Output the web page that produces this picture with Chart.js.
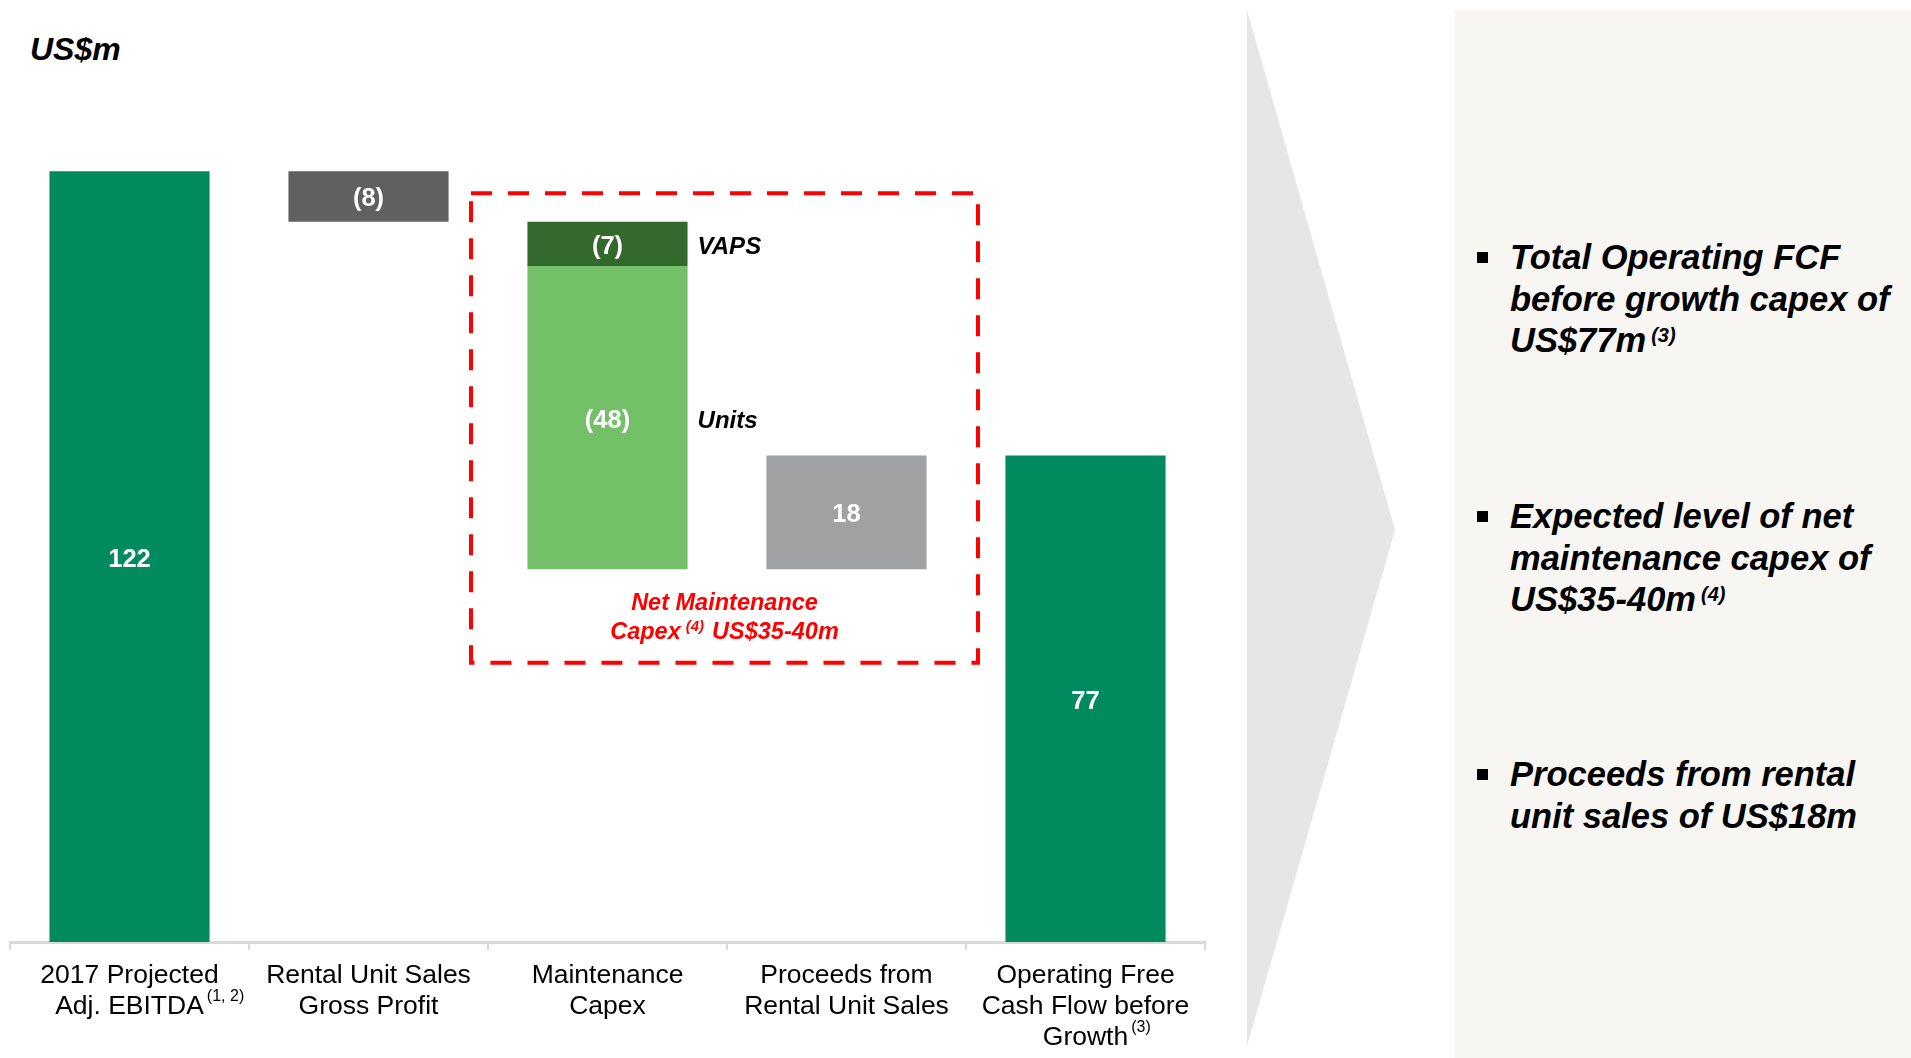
<!DOCTYPE html>
<html>
<head>
<meta charset="utf-8">
<script src="https://cdn.jsdelivr.net/npm/chart.js@4.4.1/dist/chart.umd.min.js"></script>
<style>
  html, body { margin: 0; padding: 0; background: #fff; width: 1911px; height: 1058px; overflow: hidden; }
  #unit { position: absolute; left: 30px; top: 28px; font: italic bold 32px "Liberation Sans", Arial, sans-serif; line-height: 42px; color: #000; }
  #chartBox { position: absolute; left: 0; top: 0; width: 1240px; height: 1058px; }
  #wedge { position: absolute; left: 0; top: 0; }
  #panel { position: absolute; left: 1455px; top: 10px; width: 456px; height: 1048px; background: #f7f6f2; }
  .pt { position: absolute; left: 1510px; font: italic bold 34.5px "Liberation Sans", Arial, sans-serif; line-height: 41.5px; white-space: nowrap; color: #000; }
  .pt .sup { font-size: 20px; line-height: 0; position: relative; top: -10px; margin-left: 5px; }
  .sq { position: absolute; left: 1477px; width: 11px; height: 11px; background: #000; }
</style>
</head>
<body>
<svg id="wedge" width="1911" height="1058"><polygon points="1247,10 1395,530 1247,1046" fill="#e6e6e6"/></svg>
<div id="panel"></div>
<div class="sq" style="top:252px"></div>
<div class="pt" style="top:237px">Total Operating FCF<br>before growth capex of<br>US$77m<span class="sup">(3)</span></div>
<div class="sq" style="top:511px"></div>
<div class="pt" style="top:496px">Expected level of net<br>maintenance capex of<br>US$35-40m<span class="sup">(4)</span></div>
<div class="sq" style="top:769px"></div>
<div class="pt" style="top:754px">Proceeds from rental<br>unit sales of US$18m</div>
<div id="unit">US$m</div>
<div id="chartBox"><canvas id="c" width="1240" height="1058"></canvas></div>

<script>
// Bridge steps, US$m
const categories = [
  ['2017 Projected', 'Adj. EBITDA'],
  ['Rental Unit Sales', 'Gross Profit'],
  ['Maintenance', 'Capex'],
  ['Proceeds from', 'Rental Unit Sales'],
  ['Operating Free', 'Cash Flow before', 'Growth']
];
const categoryNotes = ['(1, 2)', '', '', '', '(3)'];

const totalValues    = [122, null, null, null, 77];
const grossProfit    = [null, -8, null, null, null];
const vapsCapex      = [null, null, -7, null, null];
const unitsCapex     = [null, null, -48, null, null];
const saleProceeds   = [null, null, null, 18, null];

const seriesNames = ['Total', 'Rental Unit Sales Gross Profit', 'VAPS', 'Units', 'Proceeds'];
const sideLabels  = ['', '', 'VAPS', 'Units', ''];
const seriesColors = ['#008a5e', '#5f6062', '#34692d', '#73c069', '#a0a1a3'];

// Net maintenance capex callout text
const calloutLines = ['Net Maintenance', 'Capex', '(4)', 'US$35-40m'];

const series = [totalValues, grossProfit, vapsCapex, unitsCapex, saleProceeds];

// Turn the step values into floating [low, high] ranges
const ranges = series.map(() => new Array(categories.length).fill(null));
let running = 0;
for (let i = 0; i < categories.length; i++) {
  series.forEach((s, d) => {
    const v = s[i];
    if (v === null) return;
    if (d === 0) {            // totals stand on zero
      ranges[d][i] = [0, v];
      running = v;
    } else {
      const next = running + v;
      ranges[d][i] = [Math.min(running, next), Math.max(running, next)];
      running = next;
    }
  });
}

const FONT = '"Liberation Sans", Arial, sans-serif';
const TICK_SIZE = 26.5, TICK_LH = 1.17, TICK_LEN = 8, TICK_PAD = 10;

const barLabels = {
  id: 'barLabels',
  afterDatasetsDraw(chart) {
    const ctx = chart.ctx;
    ctx.save();
    chart.data.datasets.forEach((ds, d) => {
      const meta = chart.getDatasetMeta(d);
      meta.data.forEach((el, i) => {
        const v = series[d][i];
        if (v === null) return;
        const cy = (el.y + el.base) / 2 + 3;
        ctx.font = 'bold 25.5px ' + FONT;
        ctx.fillStyle = '#ffffff';
        ctx.textAlign = 'center';
        ctx.textBaseline = 'middle';
        ctx.fillText(v < 0 ? '(' + (-v) + ')' : String(v), el.x, cy);
        if (sideLabels[d]) {
          ctx.font = 'italic bold 24px ' + FONT;
          ctx.fillStyle = '#000000';
          ctx.textAlign = 'left';
          ctx.fillText(sideLabels[d], el.x + el.width / 2 + 10, cy + 1);
        }
      });
    });
    ctx.restore();
  }
};

const callout = {
  id: 'callout',
  afterDatasetsDraw(chart) {
    const ctx = chart.ctx, xs = chart.scales.x, ys = chart.scales.y;
    const cw = xs.getPixelForValue(1) - xs.getPixelForValue(0);
    const left = xs.getPixelForValue(2) - cw / 2 - 17;
    const right = xs.getPixelForValue(3) + cw / 2 + 12;
    const top = ys.getPixelForValue(118.5);
    const bottom = ys.getPixelForValue(44.2);
    ctx.save();
    ctx.strokeStyle = '#ff0000';
    ctx.lineWidth = 4;
    ctx.setLineDash([21, 16]);
    ctx.strokeRect(left, top, right - left, bottom - top);
    ctx.setLineDash([]);

    const cx = (left + right) / 2;
    ctx.fillStyle = '#ff0000';
    ctx.textBaseline = 'middle';
    ctx.textAlign = 'center';
    const big = 'italic bold 23.5px ' + FONT, small = 'italic bold 15px ' + FONT;
    ctx.font = big;
    ctx.fillText(calloutLines[0], cx, bottom - 59);
    // second line: "Capex" + superscript note + amount
    ctx.font = big; const w1 = ctx.measureText(calloutLines[1]).width;
    ctx.font = small; const w2 = ctx.measureText(calloutLines[2]).width;
    ctx.font = big; const w3 = ctx.measureText(calloutLines[3]).width;
    const g1 = 5, g2 = 8;
    let x = cx - (w1 + g1 + w2 + g2 + w3) / 2;
    const y2 = bottom - 30;
    ctx.textAlign = 'left';
    ctx.font = big; ctx.fillText(calloutLines[1], x, y2); x += w1 + g1;
    ctx.font = small; ctx.fillText(calloutLines[2], x, y2 - 6); x += w2 + g2;
    ctx.font = big; ctx.fillText(calloutLines[3], x, y2);
    ctx.restore();
  }
};

const tickNotes = {
  id: 'tickNotes',
  afterDraw(chart) {
    const ctx = chart.ctx, xs = chart.scales.x;
    const lh = TICK_SIZE * TICK_LH;
    ctx.save();
    categoryNotes.forEach((note, i) => {
      if (!note) return;
      const lines = categories[i];
      const last = lines.length - 1;
      ctx.font = TICK_SIZE + 'px ' + FONT;
      const w = ctx.measureText(lines[last]).width;
      const x = xs.getPixelForValue(i) + w / 2 + 3;
      const y = xs.top + TICK_LEN + TICK_PAD + lh / 2 + last * lh - 10;
      ctx.font = '16px ' + FONT;
      ctx.fillStyle = '#000';
      ctx.textAlign = 'left';
      ctx.textBaseline = 'middle';
      ctx.fillText(note, x, y);
    });
    ctx.restore();
  }
};

new Chart(document.getElementById('c'), {
  type: 'bar',
  data: {
    labels: categories,
    datasets: ranges.map((r, d) => ({
      label: seriesNames[d],
      data: r,
      backgroundColor: seriesColors[d],
      borderWidth: 0,
      borderSkipped: false,
      grouped: false,
      barPercentage: 0.67,
      categoryPercentage: 1.0
    }))
  },
  options: {
    responsive: false,
    animation: false,
    devicePixelRatio: 1,
    layout: { padding: { left: 10, right: 35, top: 89, bottom: 0 } },
    plugins: { legend: { display: false }, tooltip: { enabled: false } },
    scales: {
      x: {
        offset: true,
        grid: { display: true, offset: true, drawOnChartArea: false, drawTicks: true, tickLength: TICK_LEN, color: '#d9d9d9', lineWidth: 2 },
        border: { display: true, color: '#d9d9d9', width: 3 },
        ticks: { color: '#000', font: { family: FONT, size: TICK_SIZE, lineHeight: TICK_LH }, padding: TICK_PAD, maxRotation: 0, minRotation: 0, autoSkip: false },
        afterFit(s) { s.height = 116; }
      },
      y: { display: false, min: 0, max: 135 }
    }
  },
  plugins: [barLabels, callout, tickNotes]
});
</script>
</body>
</html>
